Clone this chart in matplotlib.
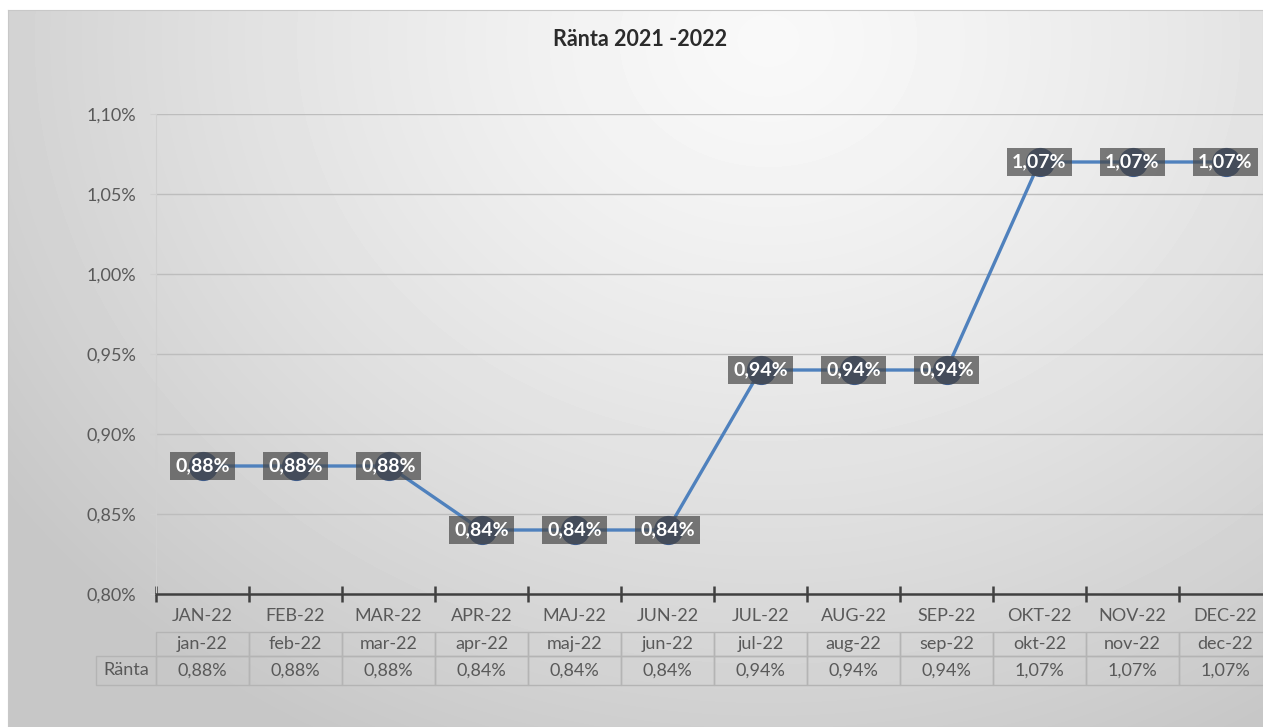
import matplotlib.pyplot as plt
import numpy as np

plt.rcParams['font.family'] = ['Lato', 'DejaVu Sans']

title = 'Ränta 2021 -2022'
series_name = 'Ränta'
months_upper = ['JAN-22', 'FEB-22', 'MAR-22', 'APR-22', 'MAJ-22', 'JUN-22',
                'JUL-22', 'AUG-22', 'SEP-22', 'OKT-22', 'NOV-22', 'DEC-22']
months_lower = ['jan-22', 'feb-22', 'mar-22', 'apr-22', 'maj-22', 'jun-22',
                'jul-22', 'aug-22', 'sep-22', 'okt-22', 'nov-22', 'dec-22']
ranta = [0.88, 0.88, 0.88, 0.84, 0.84, 0.84, 0.94, 0.94, 0.94, 1.07, 1.07, 1.07]
y_ticks = [0.80, 0.85, 0.90, 0.95, 1.00, 1.05, 1.10]


def pct(v):
    return f'{v:.2f}%'.replace('.', ',')


W, H = 1263, 727
fig = plt.figure(figsize=(W / 100, H / 100), dpi=100)
fig.patch.set_facecolor('white')

# gradient background of the chart area
bg = fig.add_axes([8 / W, 0, 1 - 8 / W, (H - 10) / H], zorder=-10)
yy, xx = np.mgrid[0:717, 0:1255]
d = np.hypot((xx - 760) / 1.0, (yy - 30) / 0.85)
shade = np.clip(0.975 - 0.16 * (d / 800) ** 1.3, 0.78, 1.0)
bg.imshow(shade, cmap='gray', vmin=0, vmax=1, aspect='auto')
bg.set_xticks([])
bg.set_yticks([])
for s in bg.spines.values():
    s.set_color('#c8c8c8')

ax = fig.add_axes([156 / W, (H - 594) / H, 1116 / W, 480 / H])
ax.patch.set_alpha(0)
x = np.arange(len(ranta))
ax.set_xlim(-0.5, len(ranta) - 0.5)
ax.set_ylim(0.80, 1.10)

ax.plot(x, ranta, color='#4f81bd', lw=2.4, zorder=3)
ax.scatter(x, ranta, s=21 ** 2, color='#3f5b88', zorder=4, linewidths=0)
for xi, v in zip(x, ranta):
    ax.text(xi, v, pct(v), ha='center', va='center', color='white',
            fontsize=14, fontweight='bold', zorder=5,
            bbox=dict(boxstyle='square,pad=0.27', fc=(0.28, 0.28, 0.28, 0.7), ec='none'))

# axes styling
ax.set_yticks(y_ticks)
ax.set_yticklabels([pct(v) for v in y_ticks])
ax.yaxis.grid(True, color='#bdbdbd', lw=1)
ax.set_axisbelow(True)
for side in ('top', 'right'):
    ax.spines[side].set_visible(False)
ax.spines['left'].set_color('#d0d0d0')
ax.spines['bottom'].set_color('#404040')
ax.spines['bottom'].set_linewidth(1.8)
ax.spines['bottom'].set_zorder(3)
ax.tick_params(axis='y', colors='#d0d0d0', labelcolor='#595959', length=4.3,
               pad=10, labelsize=13)

ax.set_xticks(x)
ax.set_xticklabels(months_upper)
ax.set_xticks(np.arange(-0.5, len(ranta)), minor=True)
ax.tick_params(axis='x', which='major', length=0, pad=10, labelcolor='#595959',
               labelsize=13)
ax.tick_params(axis='x', which='minor', direction='inout', length=12, width=1.8,
               color='#404040')

# data table under the axis
tbl = ax.table(cellText=[[''] + months_lower, [series_name] + [pct(v) for v in ranta]],
               cellLoc='center',
               bbox=[(96 - 156) / 1116, (594 - 685) / 480, (1272 - 96) / 1116, (685 - 632) / 480])
tbl.auto_set_font_size(False)
tbl.set_fontsize(13)
for (r, c), cell in tbl.get_celld().items():
    cell.set_width(60 if c == 0 else 93)
    cell.set_height(24 if r == 0 else 29.6)
    cell.set_facecolor('none')
    cell.set_edgecolor('#b4b4b4')
    cell.get_text().set_color('#595959')
tbl[(0, 0)].visible_edges = 'open'

fig.text(640 / W, 1 - 40 / H, title, ha='center', va='center', fontsize=15.5,
         fontweight='bold', color='#2b2b2b')

fig.savefig('out.png', dpi=100)
